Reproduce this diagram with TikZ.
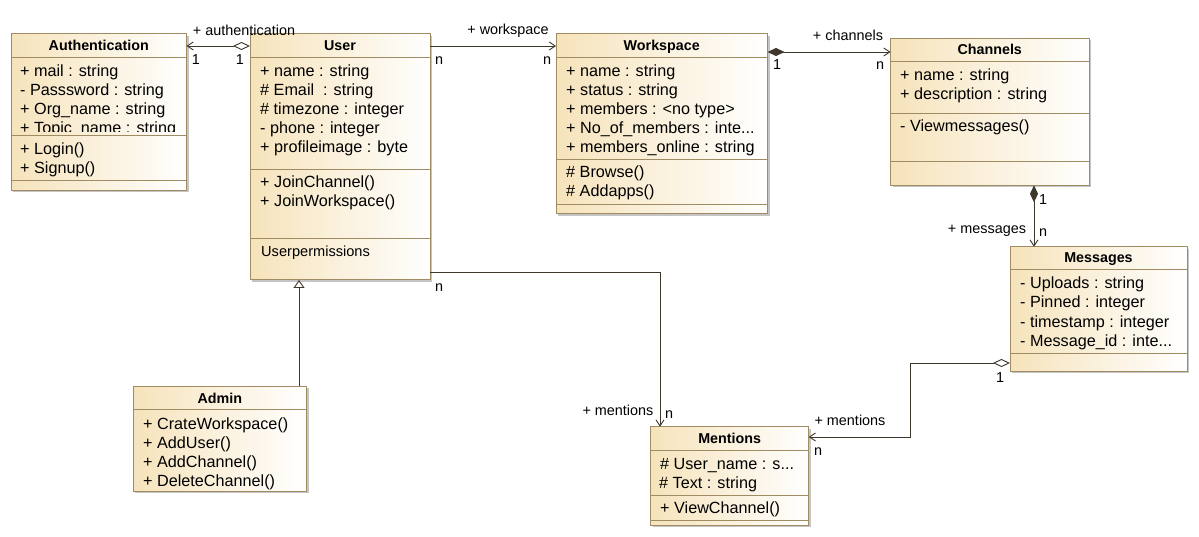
\documentclass[tikz,border=0pt]{standalone}
\usepackage{fontspec}
\setmainfont{Liberation Sans}
\usetikzlibrary{arrows.meta,shadows}
\definecolor{boxborder}{HTML}{A08C62}
\definecolor{boxleft}{HTML}{F6E3BB}
\definecolor{boxright}{HTML}{FFFFFF}
\definecolor{lnk}{HTML}{3E372B}
\newcommand\bodyf{\fontsize{16.2}{19}\selectfont}
\newcommand\headf{\fontsize{14.3}{17}\selectfont\bfseries}
\newcommand\labf{\fontsize{14.4}{17}\selectfont}
\begin{document}
\begin{tikzpicture}[x=1pt,y=-1pt,
  cls/.style={draw=boxborder, line width=1pt, left color=boxleft, right color=boxright,
    anchor=north west, inner sep=0pt, outer sep=0pt,
    drop shadow={shadow xshift=2pt,shadow yshift=-2pt,fill=black!45,opacity=0.5}},
  sepline/.style={draw=boxborder, line width=1pt},
  attr/.style={anchor=base west, inner sep=0pt, font=\bodyf, text=black},
  head/.style={anchor=base, inner sep=0pt, font=\headf, text=black},
  lab/.style={anchor=base, inner sep=0pt, font=\labf, text=black},
  link/.style={draw=lnk, line width=0.9pt},
  navtip/.tip={Straight Barb[length=6pt,width=8pt]},
  odia/.tip={Diamond[open,length=17pt,width=8pt]},
  fdia/.tip={Diamond[length=17pt,width=8pt]},
  gentip/.tip={Triangle[open,length=8pt,width=11pt]}
]
\fill[white] (0,0) rectangle (1199,537);
\useasboundingbox (0,0) rectangle (1199,537);

% ---------- boxes ----------
\node[cls, minimum width=175.5pt, minimum height=156.5pt] (auth) at (11,34) {};
\node[cls, minimum width=180pt, minimum height=246pt] (user) at (250,34) {};
\node[cls, minimum width=211.5pt, minimum height=180pt] (ws) at (556,34) {};
\node[cls, minimum width=198.5pt, minimum height=147pt] (ch) at (890.5,38.3) {};
\node[cls, minimum width=177pt, minimum height=124.5pt] (msg) at (1010,246.7) {};
\node[cls, minimum width=173.5pt, minimum height=105pt] (admin) at (133,386) {};
\node[cls, minimum width=158pt, minimum height=98.5pt] (ment) at (650.7,426.7) {};

% ---------- separators ----------
\draw[sepline] (auth.west |- 0,58) -- (auth.east |- 0,58);
\draw[sepline] (auth.west |- 0,136) -- (auth.east |- 0,136);
\draw[sepline] (auth.west |- 0,181) -- (auth.east |- 0,181);
\draw[sepline] (user.west |- 0,58) -- (user.east |- 0,58);
\draw[sepline] (user.west |- 0,170) -- (user.east |- 0,170);
\draw[sepline] (user.west |- 0,239) -- (user.east |- 0,239);
\draw[sepline] (ws.west |- 0,58) -- (ws.east |- 0,58);
\draw[sepline] (ws.west |- 0,160) -- (ws.east |- 0,160);
\draw[sepline] (ws.west |- 0,205) -- (ws.east |- 0,205);
\draw[sepline] (ch.west |- 0,62) -- (ch.east |- 0,62);
\draw[sepline] (ch.west |- 0,114) -- (ch.east |- 0,114);
\draw[sepline] (ch.west |- 0,162) -- (ch.east |- 0,162);
\draw[sepline] (msg.west |- 0,270) -- (msg.east |- 0,270);
\draw[sepline] (msg.west |- 0,353) -- (msg.east |- 0,353);
\draw[sepline] (admin.west |- 0,409) -- (admin.east |- 0,409);
\draw[sepline] (ment.west |- 0,450) -- (ment.east |- 0,450);
\draw[sepline] (ment.west |- 0,495) -- (ment.east |- 0,495);
\draw[sepline] (ment.west |- 0,520.5) -- (ment.east |- 0,520.5);

% ---------- headers ----------
\node[head] (auth-h) at (auth.north |- 0,51) {Authentication};
\node[head] (user-h) at (user.north |- 0,51) {User};
\node[head] (ws-h) at (ws.north |- 0,51) {Workspace};
\node[head] (ch-h) at (ch.north |- 0,55) {Channels};
\node[head] (msg-h) at (msg.north |- 0,263) {Messages};
\node[head] (admin-h) at (admin.north |- 0,403) {Admin};
\node[head] (ment-h) at (ment.north |- 0,443) {Mentions};

% ---------- Authentication ----------
\node[attr] (auth-a1) at (20,77) {+ mail : string};
\node[attr] (auth-a2) at (20,96) {- Passsword : string};
\node[attr] (auth-a3) at (20,115) {+ Org\_name : string};
\begin{scope}
  \clip (11,58) rectangle (186,132);
  \node[attr] (auth-a4) at (20,134) {+ Topic\_name : string};
\end{scope}
\node[attr] (auth-m1) at (20,155) {+ Login()};
\node[attr] (auth-m2) at (20,174) {+ Signup()};

% ---------- User ----------
\node[attr] (user-a1) at (260,77) {+ name : string};
\node[attr] (user-a2) at (260,96) {\# Email\ \ : string};
\node[attr] (user-a3) at (260,115) {\# timezone : integer};
\node[attr] (user-a4) at (260,134) {- phone : integer};
\node[attr] (user-a5) at (260,153) {+ profileimage : byte};
\node[attr] (user-m1) at (260,188) {+ JoinChannel()};
\node[attr] (user-m2) at (260,207) {+ JoinWorkspace()};
\node[attr] (user-p) at (261,257) {\fontsize{14.6}{19}\selectfont Userpermissions};

% ---------- Workspace ----------
\node[attr] (ws-a1) at (566,77) {+ name : string};
\node[attr] (ws-a2) at (566,96) {+ status : string};
\node[attr] (ws-a3) at (566,115) {+ members : <no type>};
\node[attr] (ws-a4) at (566,134) {+ No\_of\_members : inte...};
\node[attr] (ws-a5) at (566,153) {+ members\_online : string};
\node[attr] (ws-m1) at (566,178) {\# Browse()};
\node[attr] (ws-m2) at (566,197) {\# Addapps()};

% ---------- Channels ----------
\node[attr] (ch-a1) at (900,81) {+ name : string};
\node[attr] (ch-a2) at (900,100) {+ description : string};
\node[attr] (ch-m1) at (900,132) {- Viewmessages()};

% ---------- Messages ----------
\node[attr] (msg-a1) at (1020,289) {- Uploads : string};
\node[attr] (msg-a2) at (1020,308) {- Pinned : integer};
\node[attr] (msg-a3) at (1020,327) {- timestamp : integer};
\node[attr] (msg-a4) at (1020,346) {- Message\_id : inte...};

% ---------- Admin ----------
\node[attr] (admin-m1) at (143,429) {+ CrateWorkspace()};
\node[attr] (admin-m2) at (143,448) {+ AddUser()};
\node[attr] (admin-m3) at (143,467) {+ AddChannel()};
\node[attr] (admin-m4) at (143,486) {+ DeleteChannel()};

% ---------- Mentions ----------
\node[attr] (ment-a1) at (660,469) {\# User\_name : s...};
\node[attr] (ment-a2) at (659,488) {\# Text : string};
\node[attr] (ment-m1) at (660,513) {+ ViewChannel()};

% ---------- connectors ----------
\draw[link, navtip-odia] (auth.east |- 0,46) -- (user.west |- 0,46);
\draw[link, -navtip] (user.east |- 0,46) -- (ws.west |- 0,46);
\draw[link, fdia-navtip] (ws.east |- 0,52) -- (ch.west |- 0,52);
\draw[link, fdia-navtip] (ch.south -| 1034,0) -- (msg.north -| 1034,0);
\draw[link, -navtip] (user.east |- 0,272) -| (ment.north -| 660,0);
\draw[link, odia-navtip] (msg.west |- 0,363) -| (910,400) |- (ment.east |- 0,437);
\draw[link, -gentip] (admin.north -| 299,0) -- (user.south -| 299,0);

% ---------- connector labels ----------
\node[lab] (l-auth) at (244,36) {+ authentication};
\node[lab] (l-auth1) at (196,65) {1};
\node[lab] (l-auth2) at (240,65) {1};
\node[lab] (l-ws) at (508,35) {+ workspace};
\node[lab] (l-ws1) at (439,65) {n};
\node[lab] (l-ws2) at (547,65) {n};
\node[lab] (l-ch) at (848,40.5) {+ channels};
\node[lab] (l-ch1) at (777,70) {1};
\node[lab] (l-ch2) at (880,70) {n};
\node[lab] (l-msg) at (987,234) {+ messages};
\node[lab] (l-msg1) at (1043,205) {1};
\node[lab] (l-msg2) at (1043,237) {n};
\node[lab] (l-um) at (618,415) {+ mentions};
\node[lab] (l-um1) at (439,291) {n};
\node[lab] (l-um2) at (669,418) {n};
\node[lab] (l-mm) at (850,425) {+ mentions};
\node[lab] (l-mm1) at (1000,382) {1};
\node[lab] (l-mm2) at (818,455) {n};
\end{tikzpicture}
\end{document}
